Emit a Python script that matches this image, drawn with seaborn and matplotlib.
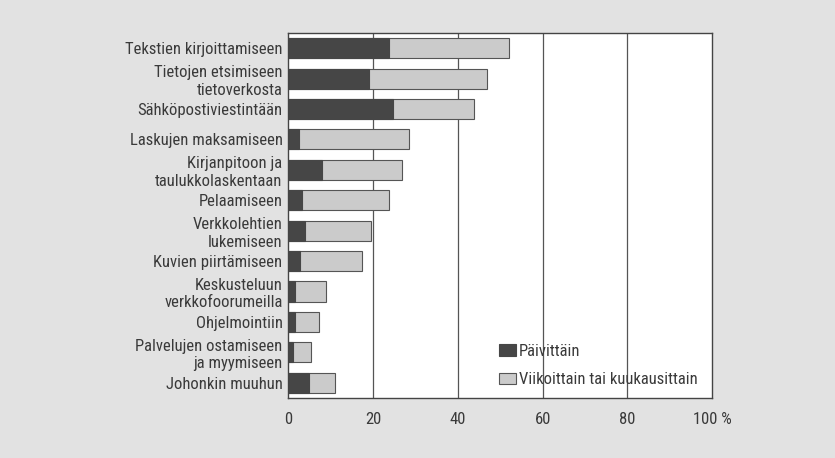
import matplotlib
matplotlib.use('Agg')
import matplotlib.pyplot as plt
import seaborn as sns
import pandas as pd

categories = ['Tekstien kirjoittamiseen', 'Tietojen etsimiseen\ntietoverkosta', 'Sähköpostiviestintään',
              'Laskujen maksamiseen', 'Kirjanpitoon ja\ntaulukkolaskentaan', 'Pelaamiseen',
              'Verkkolehtien\nlukemiseen', 'Kuvien piirtämiseen', 'Keskusteluun\nverkkofoorumeilla',
              'Ohjelmointiin', 'Palvelujen ostamiseen\nja myymiseen', 'Johonkin muuhun']
daily = [23.7, 19.0, 24.8, 2.5, 8.0, 3.3, 4.1, 2.9, 1.6, 1.6, 1.2, 4.9]
total = [52.0, 46.8, 43.9, 28.4, 26.9, 23.8, 19.6, 17.5, 8.9, 7.3, 5.4, 11.1]
tick_labels = ['0', '20', '40', '60', '80', '100 %']

df = pd.DataFrame({'category': categories, 'daily': daily, 'total': total})

sns.set_style('white')
plt.rcParams['font.family'] = ['Roboto Condensed', 'DejaVu Sans']

fig = plt.figure(figsize=(8.35, 4.58), dpi=100, facecolor='#e2e2e2')
ax = fig.add_axes([0.345, 0.131, 0.508, 0.797])
ax.set_facecolor('white')

# vertical grid lines behind the bars
for x in [20, 40, 60, 80]:
    ax.axvline(x, color='#555555', lw=0.9, zorder=0)

sns.barplot(data=df, x='total', y='category', color='#cbcbcb', edgecolor='#555555',
            linewidth=0.8, width=0.66, saturation=1, ax=ax, label='Viikoittain tai kuukausittain')
sns.barplot(data=df, x='daily', y='category', color='#464646', edgecolor='#464646',
            linewidth=0.8, width=0.66, saturation=1, ax=ax, label='Päivittäin')

ax.set_xlim(0, 100)
ax.set_ylim(11.5, -0.5)
ax.set_xticks([0, 20, 40, 60, 80, 100])
ax.set_xticklabels(tick_labels)
ax.set_xlabel('')
ax.set_ylabel('')
ax.tick_params(axis='x', direction='inout', length=8, width=0.9, color='#444444',
               labelsize=12, labelcolor='#3a3a3a', pad=6)
ax.tick_params(axis='y', length=0, labelsize=12, labelcolor='#3a3a3a', pad=4)
for lab in ax.get_yticklabels():
    lab.set_linespacing(1.2)
for s in ax.spines.values():
    s.set_color('#444444')
    s.set_linewidth(1.0)

handles, labels = ax.get_legend_handles_labels()
ax.legend(handles[::-1], labels[::-1], loc='lower right', bbox_to_anchor=(1.0, -0.012),
          frameon=False, fontsize=12, handlelength=1.0, handleheight=0.7,
          handletextpad=0.15, labelspacing=0.8, labelcolor='#3a3a3a')

fig.savefig('out.png', dpi=100, facecolor=fig.get_facecolor())
